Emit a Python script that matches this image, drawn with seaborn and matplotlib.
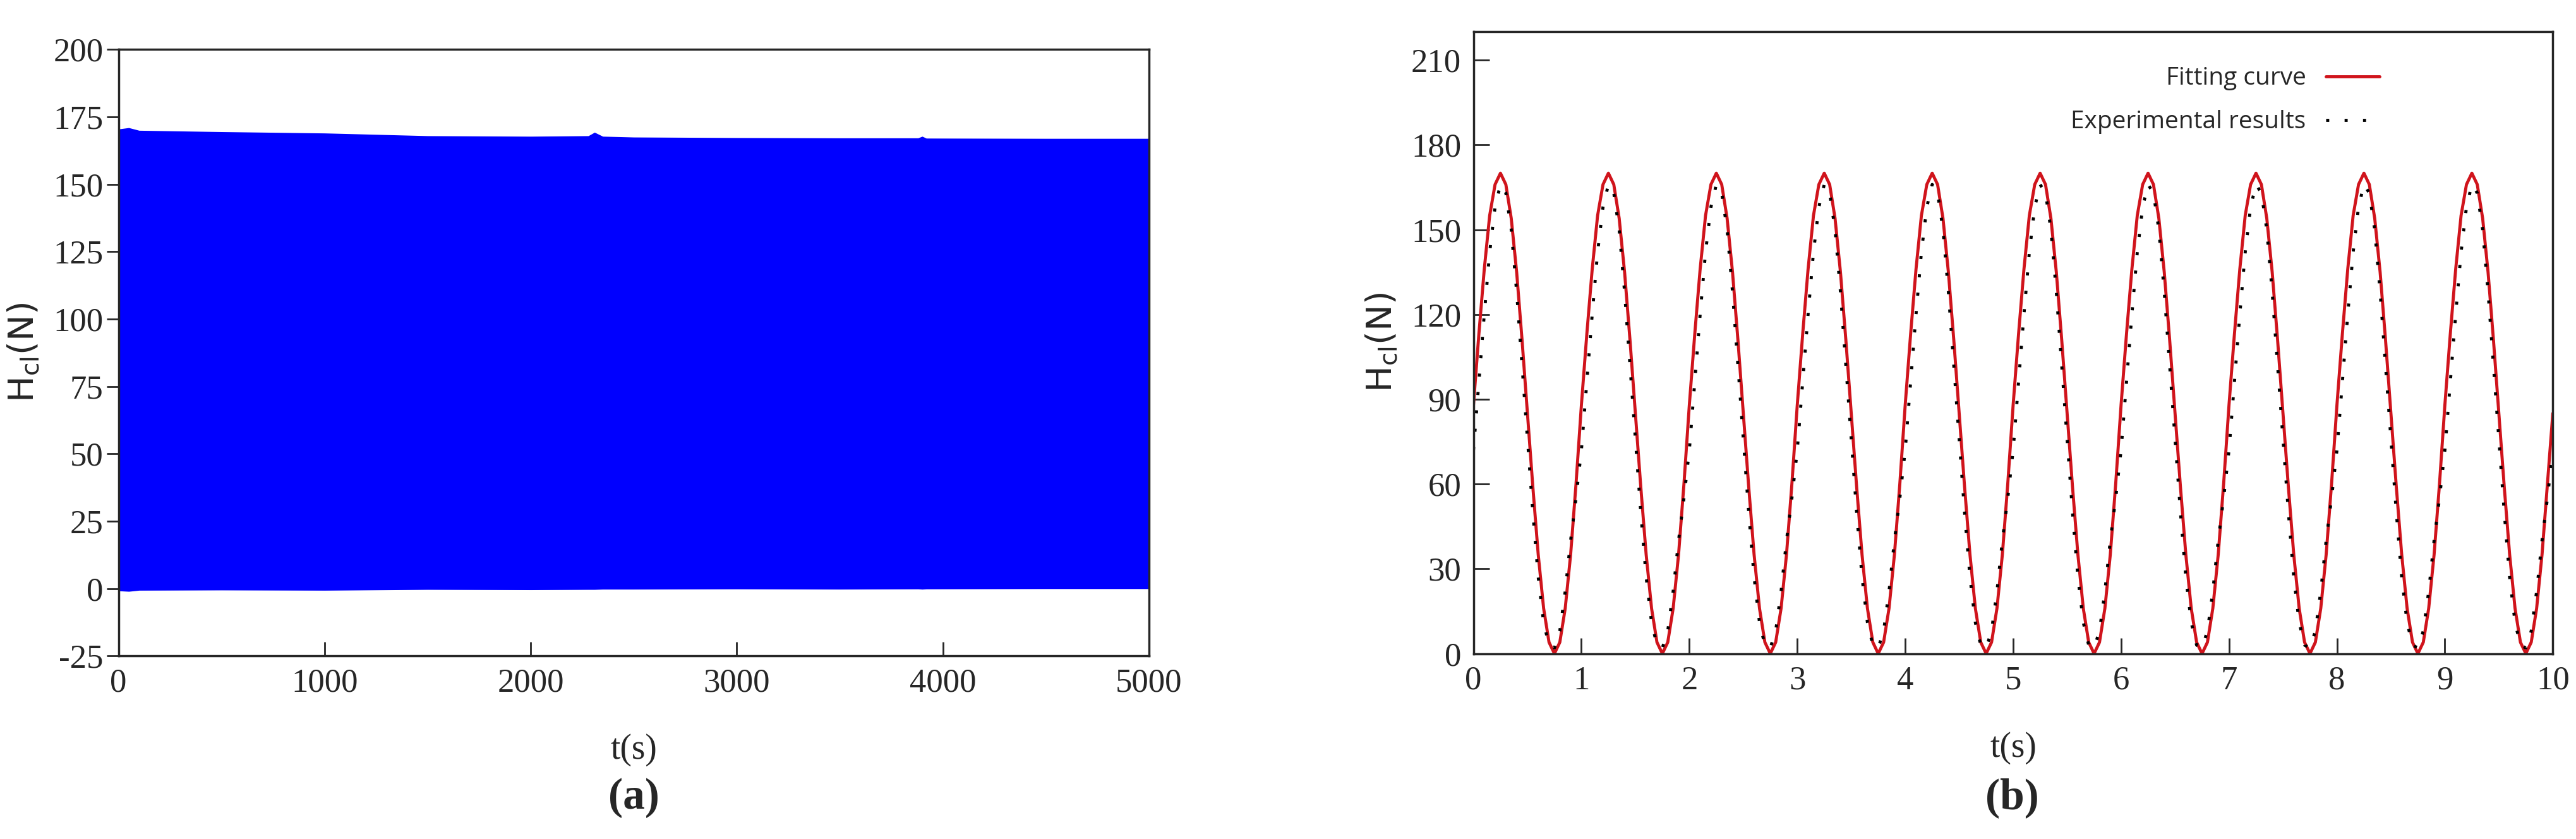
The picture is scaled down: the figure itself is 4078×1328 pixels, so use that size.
import matplotlib
matplotlib.use("Agg")
import matplotlib.pyplot as plt
import seaborn as sns
import numpy as np
import pandas as pd

# panel (a): envelope of the long record
env_t = [0, 50, 100, 500, 1000, 1500, 2000, 2280, 2310, 2350, 2500, 3000, 3500, 3880, 3900, 3920, 4500, 5000]
env_upper = [170.5, 171, 170, 169.5, 169, 168, 167.8, 168, 169.3, 167.8, 167.5, 167.3, 167.2, 167.2, 167.8, 167.1, 167, 167]
env_lower = [-0.8, -1.0, -0.6, -0.5, -0.6, -0.3, -0.4, -0.3, -0.3, -0.2, -0.2, -0.1, -0.2, -0.1, -0.2, -0.1, 0, 0]
a_xticks = [0, 1000, 2000, 3000, 4000, 5000]
a_yticks = [-25, 0, 25, 50, 75, 100, 125, 150, 175, 200]

# panel (b): one cycle (period 1 s) sampled every 0.05 s
cycle_t = [0.00, 0.05, 0.10, 0.15, 0.20, 0.25, 0.30, 0.35, 0.40, 0.45,
           0.50, 0.55, 0.60, 0.65, 0.70, 0.75, 0.80, 0.85, 0.90, 0.95]
fit_cycle = [88, 113, 136, 155, 166, 170, 166, 154, 135, 111,
             85, 59, 35, 16, 4, 0, 4, 16, 35, 60]
exp_cycle = [72, 96, 120, 142, 158, 166, 163, 150, 128, 102,
             76, 50, 27, 11, 3, 2, 8, 22, 40, 55]
n_cycles = 10
b_xticks = list(range(0, 11))
b_yticks = [0, 30, 60, 90, 120, 150, 180, 210]

tb = np.concatenate([np.array(cycle_t) + k for k in range(n_cycles)] + [[10.0]])
fit_vals = np.concatenate([fit_cycle] * n_cycles + [[85]])
exp_vals = np.concatenate([exp_cycle] * n_cycles + [[72]])
df_b = pd.DataFrame({"t": tb, "fit": fit_vals, "exp": exp_vals})

sns.set_style("ticks")
plt.rcParams["font.family"] = ["Liberation Serif", "DejaVu Serif"]
plt.rcParams["mathtext.fontset"] = "dejavusans"

fig = plt.figure(figsize=(40.78, 13.28), dpi=100)
ax1 = fig.add_axes([0.046, 0.218, 0.400, 0.723])
ax2 = fig.add_axes([0.572, 0.221, 0.419, 0.741])

tick_fs = 38
lab_fs = 40
ylab = r"H$_{\mathregular{cl}}$(N)"
serif = "Liberation Serif"


def set_ticks(ax, xt, yt):
    ax.set_xticks(xt)
    ax.set_xticklabels([str(v) for v in xt], fontsize=tick_fs, fontfamily=serif)
    ax.set_yticks(yt)
    ax.set_yticklabels([str(v) for v in yt], fontsize=tick_fs, fontfamily=serif)


# (a)
ax1.fill_between(env_t, env_lower, env_upper, color="#0000ff", linewidth=0)
ax1.set_xlim(0, 5000)
ax1.set_ylim(-25, 200)
set_ticks(ax1, a_xticks, a_yticks)
ax1.tick_params(axis="x", direction="in", length=16, width=2, pad=14)
ax1.tick_params(axis="y", direction="out", length=14, width=2)
ax1.set_xlabel("t(s)", fontsize=lab_fs, labelpad=40)
ax1.set_ylabel(ylab, fontsize=lab_fs, family="DejaVu Sans", labelpad=14)

# (b)
sns.lineplot(data=df_b, x="t", y="fit", ax=ax2, color="#d0141c", linewidth=3.5,
             label="Fitting curve")
sns.lineplot(data=df_b, x="t", y="exp", ax=ax2, color="black", linewidth=3.5,
             linestyle=(0, (1, 5)), label="Experimental results")
ax2.set_xlim(0, 10)
ax2.set_ylim(0, 220)
set_ticks(ax2, b_xticks, b_yticks)
ax2.tick_params(axis="both", direction="in", length=18, width=2, pad=14)
ax2.set_xlabel("t(s)", fontsize=lab_fs, labelpad=40)
ax2.set_ylabel(ylab, fontsize=lab_fs, family="DejaVu Sans", labelpad=14)
ax2.legend(loc="upper right", bbox_to_anchor=(0.86, 0.98), frameon=False,
           markerfirst=False, handlelength=2.2, labelspacing=0.8,
           prop={"family": "Open Sans", "size": 28})

for ax in (ax1, ax2):
    for s in ax.spines.values():
        s.set_linewidth(2.5)
        s.set_visible(True)

fig.text(0.246, 0.036, "(a)", ha="center", fontsize=50, fontweight="bold", family=serif)
fig.text(0.781, 0.036, "(b)", ha="center", fontsize=50, fontweight="bold", family=serif)

fig.savefig("out.png", dpi=100)
